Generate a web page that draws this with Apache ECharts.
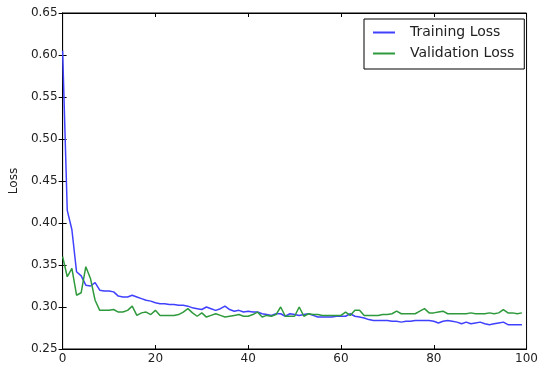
<!DOCTYPE html>
<html>
<head>
<meta charset="utf-8">
<script src="https://cdn.jsdelivr.net/npm/echarts@6/dist/echarts.min.js"></script>
<style>
  html, body { margin: 0; padding: 0; background: #fff; }
  #chart { width: 541px; height: 369px; }
</style>
</head>
<body>
<div id="chart"></div>
<script>
// loss per epoch (epochs 0..99)
var trainingLoss = [
  0.605, 0.415, 0.392, 0.342, 0.337, 0.326, 0.325, 0.329, 0.320, 0.319,
  0.319, 0.318, 0.313, 0.312, 0.312, 0.314, 0.312, 0.310, 0.308, 0.307,
  0.305, 0.304, 0.304, 0.303, 0.303, 0.302, 0.302, 0.301, 0.299, 0.298,
  0.297, 0.300, 0.298, 0.296, 0.298, 0.301, 0.297, 0.295, 0.296, 0.294,
  0.295, 0.294, 0.294, 0.292, 0.291, 0.290, 0.292, 0.292, 0.289, 0.292,
  0.291, 0.290, 0.291, 0.292, 0.290, 0.288, 0.288, 0.288, 0.288, 0.289,
  0.289, 0.289, 0.292, 0.289, 0.288, 0.287, 0.285, 0.284, 0.284, 0.284,
  0.284, 0.283, 0.283, 0.282, 0.283, 0.283, 0.284, 0.284, 0.284, 0.284,
  0.283, 0.281, 0.283, 0.284, 0.283, 0.282, 0.280, 0.282, 0.280, 0.281,
  0.282, 0.280, 0.279, 0.280, 0.281, 0.282, 0.279, 0.279, 0.279, 0.279
];
var validationLoss = [
  0.360, 0.336, 0.346, 0.314, 0.317, 0.348, 0.334, 0.308, 0.296, 0.296,
  0.296, 0.297, 0.294, 0.294, 0.296, 0.301, 0.290, 0.293, 0.294, 0.291,
  0.296, 0.290, 0.290, 0.290, 0.290, 0.291, 0.294, 0.298, 0.293, 0.289,
  0.293, 0.288, 0.290, 0.292, 0.290, 0.288, 0.289, 0.290, 0.291, 0.289,
  0.289, 0.291, 0.294, 0.288, 0.290, 0.289, 0.291, 0.300, 0.289, 0.289,
  0.289, 0.300, 0.289, 0.292, 0.291, 0.291, 0.290, 0.290, 0.290, 0.290,
  0.290, 0.294, 0.290, 0.296, 0.296, 0.290, 0.290, 0.290, 0.290, 0.291,
  0.291, 0.292, 0.295, 0.292, 0.292, 0.292, 0.292, 0.295, 0.298, 0.293,
  0.293, 0.294, 0.295, 0.292, 0.292, 0.292, 0.292, 0.292, 0.293, 0.292,
  0.292, 0.292, 0.293, 0.292, 0.293, 0.297, 0.293, 0.293, 0.292, 0.293
];
var seriesNames = ['Training Loss', 'Validation Loss'];
var xTicks = [0, 20, 40, 60, 80, 100];
var yTicks = [0.25, 0.30, 0.35, 0.40, 0.45, 0.50, 0.55, 0.60, 0.65];

function toPoints (arr) {
    return arr.map(function (v, i) { return [i, v]; });
}

var font = 'DejaVu Sans';
var textColor = '#222';
var tickStyle = { inside: true, length: 4, lineStyle: { color: '#000', width: 1 } };

var chart = echarts.init(document.getElementById('chart'));
var option = {
    backgroundColor: '#fff',
    animation: false,
    grid: {
        left: 62, top: 13, right: 9, bottom: 20,
        show: true, borderColor: '#000', borderWidth: 1
    },
    legend: {
        data: seriesNames,
        orient: 'vertical',
        left: 364,
        top: 19,
        padding: [6, 10, 8, 9],
        itemGap: 6,
        itemWidth: 22,
        itemHeight: 2,
        icon: 'rect',
        borderColor: '#000',
        borderWidth: 1,
        backgroundColor: '#fff',
        textStyle: {
            fontFamily: font, fontSize: 14, color: textColor,
            lineHeight: 15, padding: [0, 0, 0, 10]
        }
    },
    xAxis: [
        {
            type: 'value', min: 0, max: 100, interval: 20,
            axisLine: { show: true, lineStyle: { color: '#000' } },
            axisTick: tickStyle,
            splitLine: { show: false },
            axisLabel: {
                fontFamily: font, fontSize: 12, color: textColor, margin: 4,
                formatter: function (v) { return xTicks.indexOf(v) > -1 ? String(v) : ''; }
            }
        },
        {
            type: 'value', min: 0, max: 100, interval: 20, position: 'top',
            axisLine: { show: true, lineStyle: { color: '#000' } },
            axisTick: tickStyle,
            splitLine: { show: false },
            axisLabel: { show: false }
        }
    ],
    yAxis: [
        {
            type: 'value', min: 0.25, max: 0.65, interval: 0.05,
            name: 'Loss',
            nameLocation: 'middle',
            nameGap: 33,
            nameTextStyle: { fontFamily: font, fontSize: 12, color: textColor },
            axisLine: { show: true, lineStyle: { color: '#000' } },
            axisTick: tickStyle,
            splitLine: { show: false },
            axisLabel: {
                fontFamily: font, fontSize: 12, color: textColor, margin: 5,
                formatter: function (v) {
                    var t = Math.round(v * 100) / 100;
                    return yTicks.indexOf(t) > -1 ? t.toFixed(2) : '';
                }
            }
        },
        {
            type: 'value', min: 0.25, max: 0.65, interval: 0.05, position: 'right',
            axisLine: { show: true, lineStyle: { color: '#000' } },
            axisTick: tickStyle,
            splitLine: { show: false },
            axisLabel: { show: false }
        }
    ],
    series: [
        {
            name: seriesNames[0],
            type: 'line',
            showSymbol: false,
            symbol: 'none',
            color: '#4040ff',
            lineStyle: { width: 1.5, color: '#4040ff' },
            data: toPoints(trainingLoss)
        },
        {
            name: seriesNames[1],
            type: 'line',
            showSymbol: false,
            symbol: 'none',
            color: '#2f9a3c',
            lineStyle: { width: 1.5, color: '#2f9a3c' },
            data: toPoints(validationLoss)
        }
    ]
};
chart.setOption(option);
</script>
</body>
</html>
